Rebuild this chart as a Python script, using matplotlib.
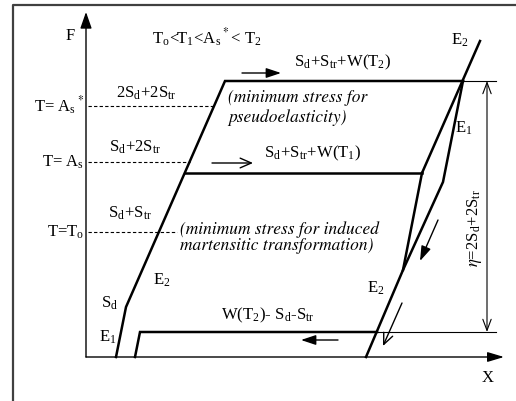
import matplotlib.pyplot as plt

plt.rcParams['mathtext.fontset'] = 'stix'
plt.rcParams['font.family'] = ['Liberation Serif', 'DejaVu Serif']

# schematic vertices (pixel units of the original drawing, y grows downward)
loading_x = [116, 126, 225, 463]
loading_y = [357, 307, 81, 81]
e2_upper_x = [422, 480]
e2_upper_y = [173, 41]
middle_x = [185, 422]
middle_y = [173, 173]
unload_x = [463, 443, 403, 366]
unload_y = [81, 182, 270, 357]
e1_mid_x = [422, 403]
e1_mid_y = [173, 270]
bottom_x = [135, 140, 377]
bottom_y = [357, 332, 332]

dash_levels = [106, 162, 232]
dash_ends = [213, 190, 177]
dash_labels = [r'T= A$_\mathregular{s}$$^*$', r'T= A$_\mathregular{s}$', r'T=T$_\mathregular{o}$']

note1 = '(minimum stress for\npseudoelasticity)'
note2 = '(minimum stress for induced\nmartensitic transformation)'

fig = plt.figure(figsize=(5.16, 4.01), dpi=100)
ax = fig.add_axes([0, 0, 1, 1])
ax.set_xlim(0, 516)
ax.set_ylim(401, 0)
ax.axis('off')

# outer frame (left + top)
ax.plot([13, 13, 516], [401, 5, 5], color='#404040', lw=1.6, solid_capstyle='butt')

# axes
ax.annotate('', xy=(86, 12), xytext=(86, 357),
            arrowprops=dict(arrowstyle='-|>,head_length=1.0,head_width=0.35', lw=1.0, color='k', shrinkA=0, shrinkB=0))
ax.annotate('', xy=(504, 357), xytext=(86, 357),
            arrowprops=dict(arrowstyle='-|>,head_length=1.0,head_width=0.3', lw=1.0, color='k', shrinkA=0, shrinkB=0))
ax.text(70, 36, 'F', fontsize=12, ha='center', va='center')
ax.text(488, 378, 'X', fontsize=12, ha='center', va='center')

# curves
thick = dict(color='k', lw=1.8, solid_joinstyle='miter')
ax.plot(loading_x, loading_y, **thick)
ax.plot(e2_upper_x, e2_upper_y, **thick)
ax.plot(middle_x, middle_y, **thick)
ax.plot(unload_x, unload_y, **thick)
ax.plot(e1_mid_x, e1_mid_y, **thick)
ax.plot(bottom_x, bottom_y, **thick)

# thin extension lines for the dimension
ax.plot([463, 496], [81, 81], color='k', lw=0.8)
ax.plot([377, 496], [332, 332], color='k', lw=0.8)
ax.annotate('', xy=(487, 81), xytext=(487, 332),
            arrowprops=dict(arrowstyle='<->,head_length=0.8,head_width=0.3', lw=0.8, color='k', shrinkA=0, shrinkB=0))
ax.text(475, 228, r'$\eta$=2S$_\mathregular{d}$+2S$_\mathregular{tr}$', fontsize=12, rotation=90,
        ha='center', va='center')

# dashed temperature levels
for y, xe, lab in zip(dash_levels, dash_ends, dash_labels):
    ax.plot([88, xe], [y, y], color='k', lw=0.8, ls=(0, (3, 2)))
    ax.text(84, y, lab, fontsize=12, ha='right', va='center')

# direction arrows
filled = dict(arrowstyle='-|>,head_length=0.9,head_width=0.3', lw=1.0, color='k', shrinkA=0, shrinkB=0)
opened = dict(arrowstyle='->,head_length=0.8,head_width=0.35', lw=1.0, color='k', shrinkA=0, shrinkB=0)
ax.annotate('', xy=(281, 73), xytext=(242, 73), arrowprops=filled)
ax.annotate('', xy=(253, 163), xytext=(212, 163), arrowprops=opened)
ax.annotate('', xy=(420, 261), xytext=(438, 220), arrowprops=filled)
ax.annotate('', xy=(383, 346), xytext=(402, 303), arrowprops=opened)
ax.annotate('', xy=(301, 340), xytext=(338, 340), arrowprops=filled)

# labels
fs = 12
ax.text(207, 38, r'T$_\mathregular{o}$<T$_\mathregular{1}$<A$_\mathregular{s}$$^*$< T$_\mathregular{2}$', fontsize=fs, ha='center', va='center')
ax.text(343, 62, r'S$_\mathregular{d}$+S$_\mathregular{tr}$+W(T$_\mathregular{2}$)', fontsize=fs, ha='center', va='center')
ax.text(146, 93, r'2S$_\mathregular{d}$+2S$_\mathregular{tr}$', fontsize=fs, ha='center', va='center')
ax.text(135, 147, r'S$_\mathregular{d}$+2S$_\mathregular{tr}$', fontsize=fs, ha='center', va='center')
ax.text(313, 153, r'S$_\mathregular{d}$+S$_\mathregular{tr}$+W(T$_\mathregular{1}$)', fontsize=fs, ha='center', va='center')
ax.text(130, 213, r'S$_\mathregular{d}$+S$_\mathregular{tr}$', fontsize=fs, ha='center', va='center')
ax.text(268, 315, r'W(T$_\mathregular{2}$)- S$_\mathregular{d}$-S$_\mathregular{tr}$', fontsize=fs, ha='center', va='center')
ax.text(460, 40, r'E$_\mathregular{2}$', fontsize=fs, ha='center', va='center')
ax.text(464, 128, r'E$_\mathregular{1}$', fontsize=fs, ha='center', va='center')
ax.text(376, 288, r'E$_\mathregular{2}$', fontsize=fs, ha='center', va='center')
ax.text(162, 280, r'E$_\mathregular{2}$', fontsize=fs, ha='center', va='center')
ax.text(110, 303, r'S$_\mathregular{d}$', fontsize=fs, ha='center', va='center')
ax.text(108, 337, r'E$_\mathregular{1}$', fontsize=fs, ha='center', va='center')

ax.text(228, 108, note1, fontsize=12.5, family='STIXGeneral', style='italic',
        ha='left', va='center', linespacing=1.25)
ax.text(180, 238, note2, fontsize=12.5, family='STIXGeneral', style='italic',
        ha='left', va='center', linespacing=0.95)

fig.savefig('out.png', dpi=100)
